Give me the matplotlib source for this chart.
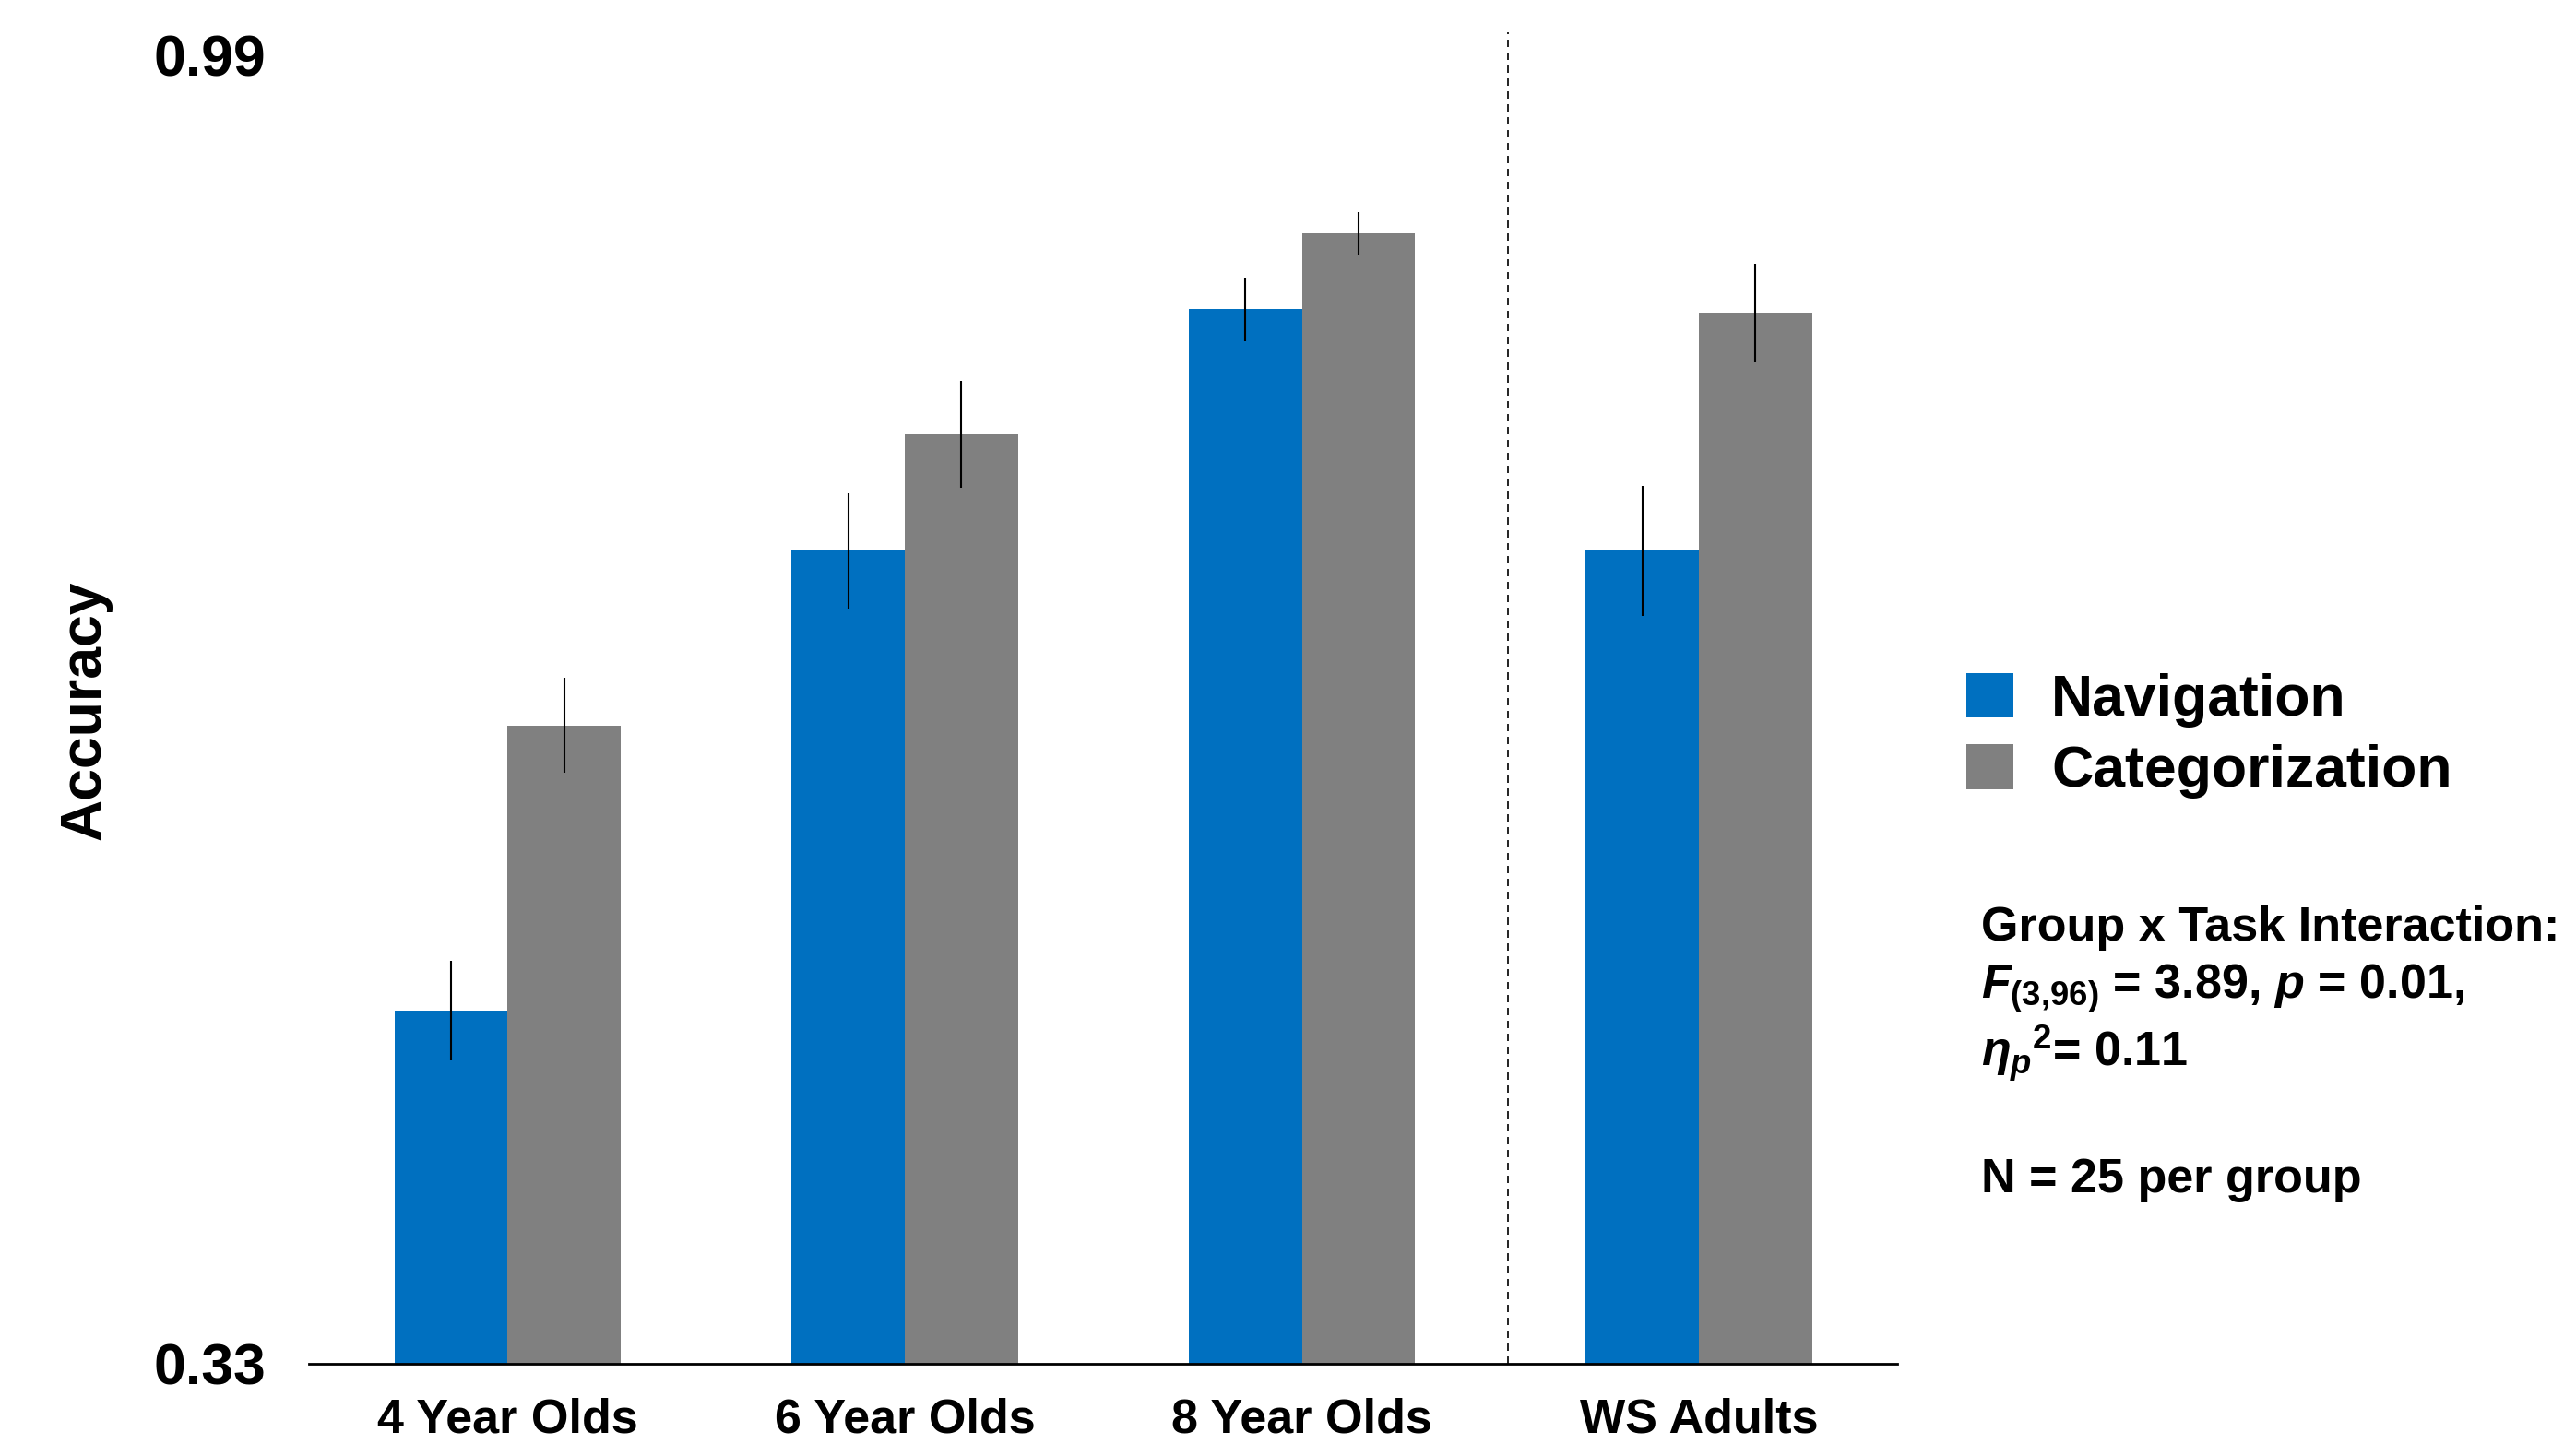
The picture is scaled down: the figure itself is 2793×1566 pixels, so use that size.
import numpy as np
import matplotlib
matplotlib.use("Agg")
import matplotlib.pyplot as plt
from matplotlib.patches import Patch

# Data
groups = ["4 Year Olds", "6 Year Olds", "8 Year Olds", "WS Adults"]
navigation = [0.508, 0.740, 0.862, 0.740]
categorization = [0.652, 0.799, 0.900, 0.860]
navigation_err = [0.025, 0.029, 0.016, 0.033]
categorization_err = [0.024, 0.027, 0.011, 0.025]
y_ticks = [0.33, 0.99]
series_names = ["Navigation", "Categorization"]

plt.rcParams['font.family'] = ['Liberation Sans', 'DejaVu Sans']
plt.rcParams['font.weight'] = 'bold'
plt.rcParams['mathtext.fontset'] = 'custom'
plt.rcParams['mathtext.rm'] = 'Liberation Sans:bold'
plt.rcParams['mathtext.it'] = 'Liberation Sans:italic:bold'
plt.rcParams['mathtext.bf'] = 'Liberation Sans:bold'

blue = '#0070C0'
grey = '#808080'

fig = plt.figure(figsize=(27.93, 15.66), dpi=100)
ax = fig.add_axes([0.120, 0.0556, 0.6166, 0.9061])

x = np.arange(len(groups))
w = 0.285
ax.bar(x - w / 2, navigation, width=w, color=blue, zorder=2)
ax.bar(x + w / 2, categorization, width=w, color=grey, zorder=2)
ax.errorbar(x - w / 2, navigation, yerr=navigation_err, fmt='none',
            ecolor='black', elinewidth=1.5, capsize=0, zorder=3)
ax.errorbar(x + w / 2, categorization, yerr=categorization_err, fmt='none',
            ecolor='black', elinewidth=1.5, capsize=0, zorder=3)

# separator between children and adults
ax.vlines(2.52, y_ticks[0], 1.0016, colors='#222222', linewidth=1.4,
          linestyles=(0, (4.1, 3.1)), clip_on=False, zorder=1)

ax.set_xlim(-0.5, 3.5)
ax.set_ylim(y_ticks[0], y_ticks[1])
ax.set_yticks(y_ticks)
ax.set_yticklabels([f"{v:.2f}" for v in y_ticks])
ax.set_xticks(x)
ax.set_xticklabels(groups)
ax.tick_params(axis='y', length=0, pad=34, labelsize=45)
ax.tick_params(axis='x', length=0, pad=26, labelsize=37.5)

for s in ['top', 'right', 'left']:
    ax.spines[s].set_visible(False)
ax.spines['bottom'].set_linewidth(2)
ax.spines['bottom'].set_color('black')

fig.text(0.033, 0.508, "Accuracy", rotation=90, ha='center', va='center',
         fontsize=45, fontweight='bold')

handles = [Patch(facecolor=blue, edgecolor='none'),
           Patch(facecolor=grey, edgecolor='none')]
fig.legend(handles, series_names, loc='center left',
           bbox_to_anchor=(0.7634, 0.4905), frameon=False, fontsize=45,
           handlelength=0.82, handleheight=0.82, handletextpad=0.65,
           labelspacing=0.29, borderpad=0, borderaxespad=0)

stats_lines = [
    "Group x Task Interaction:",
    r"$F_{(3{,}96)}$ = 3.89, $p$ = 0.01,",
    r"$\eta_p{}^2$= 0.11",
    "N = 25 per group",
]
stats_y = [0.3487, 0.3084, 0.2612, 0.1743]
for txt, yy in zip(stats_lines, stats_y):
    fig.text(0.769, yy, txt, ha='left', va='baseline', fontsize=37.5,
             fontweight='bold')

fig.savefig("out.png", dpi=100, facecolor='white')
